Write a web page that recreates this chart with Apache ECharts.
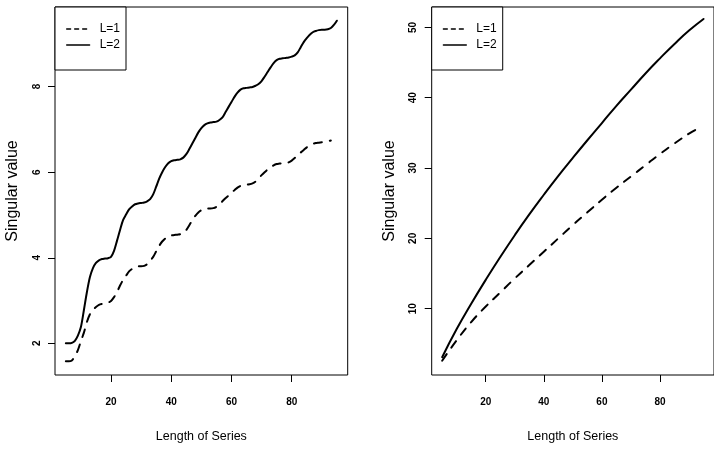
<!DOCTYPE html>
<html>
<head>
<meta charset="utf-8">
<script src="https://cdn.jsdelivr.net/npm/echarts@6/dist/echarts.min.js"></script>
<style>
  html, body { margin: 0; padding: 0; background: #fff; }
  #chart { width: 714px; height: 449px; }
</style>
</head>
<body>
<div id="chart"></div>
<script>
// left panel: length of series, one point per step
const lenLeft = [5, 6, 7, 8, 9, 10, 11, 12, 13, 14, 15, 16, 17, 18, 19, 20, 21, 22, 23, 24,
  25, 26, 27, 28, 29, 30, 31, 32, 33, 34, 35, 36, 37, 38, 39, 40, 41, 42, 43, 44,
  45, 46, 47, 48, 49, 50, 51, 52, 53, 54, 55, 56, 57, 58, 59, 60, 61, 62, 63, 64,
  65, 66, 67, 68, 69, 70, 71, 72, 73, 74, 75, 76, 77, 78, 79, 80, 81, 82, 83, 84,
  85, 86, 87, 88, 89, 90, 91, 92, 93, 94, 95];
// L=1 (dashed), stops at 93
const leftL1 = [1.58, 1.58, 1.60, 1.70, 1.84, 2.05, 2.25, 2.50, 2.68, 2.78,
  2.85, 2.90, 2.92, 2.93, 2.95, 2.99, 3.08, 3.20, 3.35, 3.48,
  3.58, 3.68, 3.74, 3.78, 3.80, 3.80, 3.81, 3.85, 3.93, 4.02,
  4.15, 4.28, 4.38, 4.45, 4.50, 4.52, 4.53, 4.54, 4.55, 4.58,
  4.65, 4.76, 4.88, 4.98, 5.06, 5.11, 5.14, 5.15, 5.15, 5.16,
  5.19, 5.25, 5.32, 5.39, 5.45, 5.52, 5.58, 5.64, 5.68, 5.70,
  5.71, 5.72, 5.74, 5.78, 5.85, 5.93, 6.00, 6.06, 6.11, 6.16,
  6.19, 6.20, 6.21, 6.21, 6.23, 6.27, 6.33, 6.40, 6.46, 6.52,
  6.58, 6.63, 6.66, 6.68, 6.69, 6.70, 6.71, 6.72, 6.74];
// L=2 (solid)
const leftL2 = [2.00, 2.00, 2.01, 2.06, 2.18, 2.38, 2.78, 3.20, 3.55, 3.76,
  3.88, 3.94, 3.97, 3.98, 3.99, 4.02, 4.16, 4.40, 4.65, 4.88,
  5.01, 5.13, 5.20, 5.25, 5.27, 5.28, 5.29, 5.32, 5.37, 5.48,
  5.66, 5.85, 6.00, 6.12, 6.21, 6.26, 6.28, 6.29, 6.30, 6.34,
  6.42, 6.54, 6.67, 6.80, 6.93, 7.03, 7.10, 7.14, 7.16, 7.17,
  7.18, 7.22, 7.28, 7.40, 7.52, 7.64, 7.76, 7.86, 7.93, 7.96,
  7.97, 7.98, 7.99, 8.02, 8.06, 8.13, 8.23, 8.34, 8.45, 8.55,
  8.62, 8.65, 8.66, 8.67, 8.68, 8.70, 8.73, 8.80, 8.92, 9.04,
  9.13, 9.21, 9.27, 9.30, 9.32, 9.33, 9.33, 9.34, 9.37, 9.44, 9.54];

// right panel
const lenRightL1 = [5, 10, 15, 20, 25, 30, 35, 40, 45, 50, 55, 60, 65, 70, 75, 80, 85, 90, 93];
const rightL1 = [2.6, 5.5, 8.1, 10.3, 12.3, 14.3, 16.2, 18.1, 20.0, 21.9, 23.7, 25.5, 27.2, 28.8, 30.4, 32.0, 33.5, 34.9, 35.6];
const lenRightL2 = [5, 10, 15, 20, 25, 30, 35, 40, 45, 50, 55, 60, 65, 70, 75, 80, 85, 90, 95];
const rightL2 = [3.1, 7.1, 10.7, 14.1, 17.35, 20.45, 23.4, 26.2, 28.9, 31.45, 33.95, 36.4, 38.85, 41.15, 43.45, 45.6, 47.65, 49.55, 51.2];

const xTicks = [20, 40, 60, 80];
const yTicksLeft = [2, 4, 6, 8];
const yTicksRight = [10, 20, 30, 40, 50];

const chart = echarts.init(document.getElementById('chart'));

const sans = 'Liberation Sans';
// tick label font
const tickFont = { fontFamily: sans, fontWeight: 'bold', fontSize: 10, color: '#000' };
const dashed = [8, 8];

function pairs(xs, ys) {
  return ys.map((y, i) => [xs[i], y]);
}

function xAxisFor(gi) {
  return {
    type: 'value',
    gridIndex: gi,
    min: 1.4,
    max: 98.6,
    name: 'Length of Series',
    nameLocation: 'middle',
    nameGap: 55,
    nameTextStyle: { fontFamily: sans, fontSize: 12.5, color: '#000' },
    axisLine: { show: false, onZero: false },
    axisTick: { show: true, length: 7, customValues: xTicks, lineStyle: { color: '#000' } },
    axisLabel: Object.assign({ margin: 22, customValues: xTicks }, tickFont),
    splitLine: { show: false }
  };
}

function yAxisFor(gi, min, max, ticks) {
  return {
    type: 'value',
    gridIndex: gi,
    min: min,
    max: max,
    name: 'Singular value',
    nameLocation: 'middle',
    nameRotate: 90,
    nameGap: 34,
    nameTextStyle: { fontFamily: sans, fontSize: 16, color: '#000' },
    axisLine: { show: false, onZero: false },
    axisTick: { show: true, length: 7, customValues: ticks, lineStyle: { color: '#000' } },
    axisLabel: Object.assign({ rotate: 90, margin: 13, customValues: ticks }, tickFont),
    splitLine: { show: false }
  };
}

function legendAt(left) {
  return {
    left: left,
    top: 7,
    orient: 'vertical',
    padding: [15, 6, 18, 11],
    itemWidth: 23,
    itemHeight: 14,
    itemGap: 2,
    borderColor: '#000',
    borderWidth: 1,
    borderRadius: 0,
    backgroundColor: '#fff',
    selectedMode: false,
    itemStyle: { opacity: 0 },
    textStyle: { fontFamily: sans, fontSize: 12, lineHeight: 14, color: '#000', padding: [0, 0, 0, 5] },
    data: [
      { name: 'L=1', lineStyle: { width: 1.3, type: [4, 4] } },
      { name: 'L=2', lineStyle: { width: 1.3, type: 'solid' } }
    ]
  };
}

function line(name, gi, data, type, smooth) {
  return {
    name: name,
    type: 'line',
    xAxisIndex: gi,
    yAxisIndex: gi,
    data: data,
    symbol: 'none',
    showSymbol: false,
    smooth: smooth,
    lineStyle: { color: '#000', width: 2, type: type, cap: 'round' },
    itemStyle: { color: '#000' }
  };
}

const option = {
  animation: false,
  backgroundColor: '#fff',
  grid: [
    { left: 55, top: 7, width: 292.7, height: 368, show: true, borderColor: '#000', borderWidth: 1, containLabel: false },
    { left: 431.7, top: 7, width: 291.8, height: 368, show: true, borderColor: '#000', borderWidth: 1, containLabel: false }
  ],
  legend: [legendAt(55), legendAt(431.7)],
  xAxis: [xAxisFor(0), xAxisFor(1)],
  yAxis: [
    yAxisFor(0, 1.26, 9.86, yTicksLeft),
    yAxisFor(1, 0.57, 52.9, yTicksRight)
  ],
  series: [
    line('L=1', 0, pairs(lenLeft, leftL1), dashed, 0.3),
    line('L=2', 0, pairs(lenLeft, leftL2), 'solid', 0.3),
    line('L=1', 1, pairs(lenRightL1, rightL1), dashed, true),
    line('L=2', 1, pairs(lenRightL2, rightL2), 'solid', true)
  ]
};

chart.setOption(option);
</script>
</body>
</html>
